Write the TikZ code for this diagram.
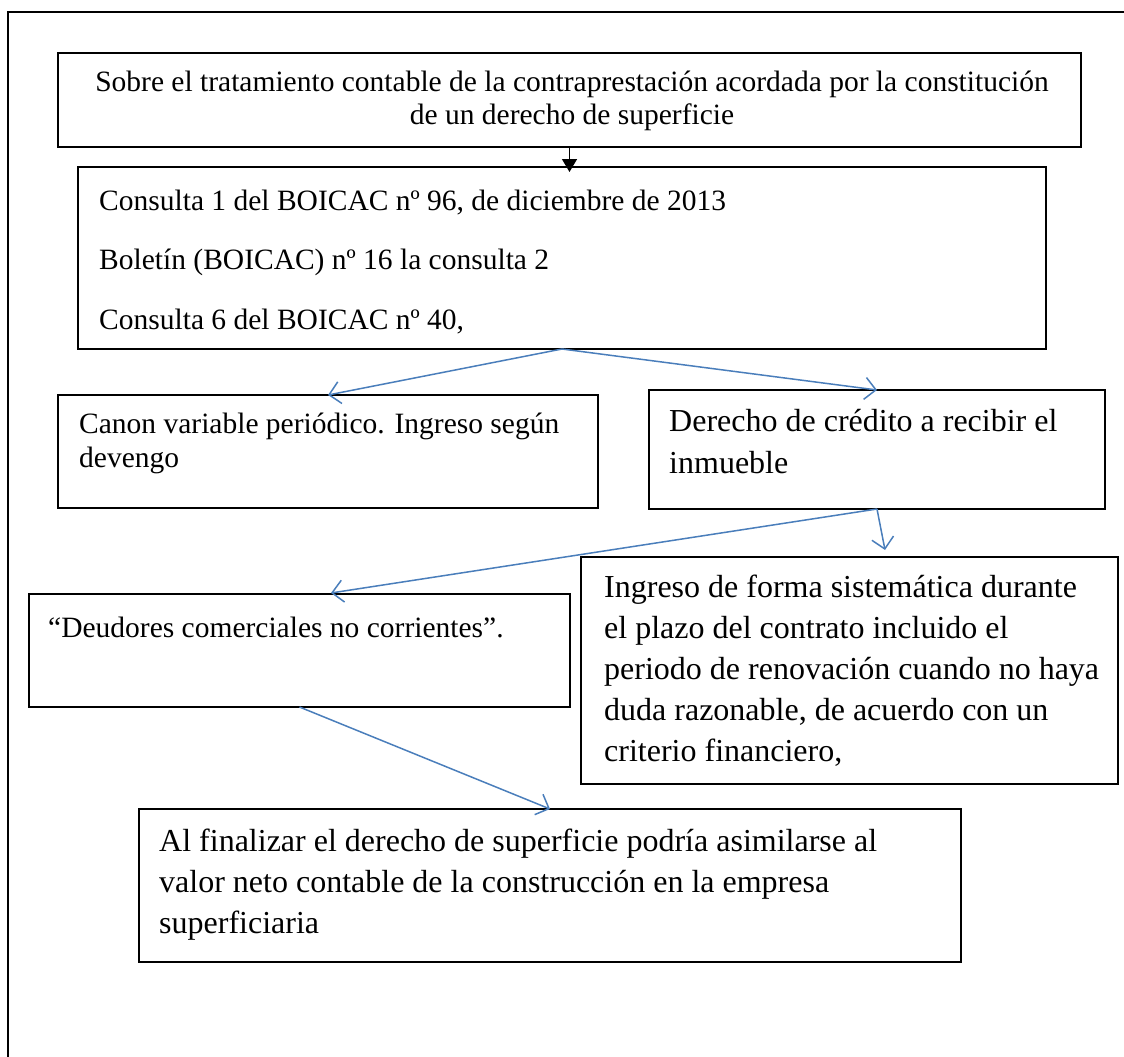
\documentclass[tikz,border=0pt]{standalone}
\usepackage{fontspec}
\setmainfont{Liberation Serif}
\usetikzlibrary{arrows.meta,calc}
\definecolor{wordblue}{HTML}{4A7EBB}
\begin{document}
\begin{tikzpicture}[x=1pt,y=-1pt,
  box/.style={draw=black, line width=1.5pt, inner sep=0pt, outer sep=0pt, anchor=north west},
  small/.style={inner sep=0pt, anchor=base west, font=\fontsize{29.5}{34}\selectfont},
  smallc/.style={inner sep=0pt, anchor=base, font=\fontsize{29.5}{34}\selectfont},
  big/.style={inner sep=0pt, anchor=base west, font=\fontsize{32}{38}\selectfont},
  blueconn/.style={draw=wordblue, line width=1.5pt, -{Straight Barb[length=11pt,width=22pt]}},
  blackconn/.style={draw=black, line width=1.5pt, -{Triangle[length=13pt,width=15pt]}},
  frame/.style={draw=black, line width=1.5pt}
]
\useasboundingbox (0,0) rectangle (1124,1057);
% outer frame (cut off at right and bottom)
\coordinate (frameBL) at (8,1057);
\coordinate (frameTL) at (8,12);
\coordinate (frameTR) at (1124,12);
\draw[frame] (frameBL) -- (frameTL) -- (frameTR);

% boxes
\node[box, minimum width=1023pt, minimum height=94pt] (title) at (58,53) {};
\node[box, minimum width=968pt, minimum height=182pt] (consultas) at (78,167) {};
\node[box, minimum width=540pt, minimum height=113pt] (canon) at (58,395) {};
\node[box, minimum width=456pt, minimum height=119pt] (derecho) at (649,390) {};
\node[box, minimum width=541pt, minimum height=113pt] (deudores) at (29,594) {};
\node[box, minimum width=537pt, minimum height=227pt] (ingreso) at (581,557) {};
\node[box, minimum width=822pt, minimum height=153pt] (final) at (139,809) {};

% texts
\node[smallc] (t1a) at (572,91) {Sobre el tratamiento contable de la contraprestación acordada por la constitución};
\node[smallc] (t1b) at (572,124) {de un derecho de superficie};

\node[small] (t2a) at (99,210) {Consulta 1 del BOICAC nº 96, de diciembre de 2013};
\node[small] (t2b) at (99,269) {Boletín (BOICAC) nº 16 la consulta 2};
\node[small] (t2c) at (99,329) {Consulta 6 del BOICAC nº 40,};

\node[small] (t3a) at (79,433) {Canon variable periódico. Ingreso según};
\node[small] (t3b) at (79,467) {devengo};

\node[big] (t4a) at (669,431) {Derecho de crédito a recibir el};
\node[big] (t4b) at (669,473) {inmueble};

\node[small] (t5a) at (48,637) {“Deudores comerciales no corrientes”.};

\node[big] (t6a) at (604,597) {Ingreso de forma sistemática durante};
\node[big] (t6b) at (604,638) {el plazo del contrato incluido el};
\node[big] (t6c) at (604,679) {periodo de renovación cuando no haya};
\node[big] (t6d) at (604,720) {duda razonable, de acuerdo con un};
\node[big] (t6e) at (604,761) {criterio financiero,};

\node[big] (t7a) at (159,851) {Al finalizar el derecho de superficie podría asimilarse al};
\node[big] (t7b) at (159,892) {valor neto contable de la construcción en la empresa};
\node[big] (t7c) at (159,933) {superficiaria};

% connectors
\draw[blackconn, shorten >=-5pt] (title.south) -- (title.south |- consultas.north);
\draw[blueconn] (consultas.south) -- (canon.north);
\draw[blueconn] (consultas.south) -- (derecho.north);
\coordinate (ingresoTip) at (885,550);
\draw[blueconn] (derecho.south) -- (ingresoTip);
\coordinate (deudoresTip) at (331,593);
\draw[blueconn] (derecho.south) -- (deudoresTip);
\draw[blueconn] (deudores.south) -- (final.north);
\end{tikzpicture}
\end{document}
